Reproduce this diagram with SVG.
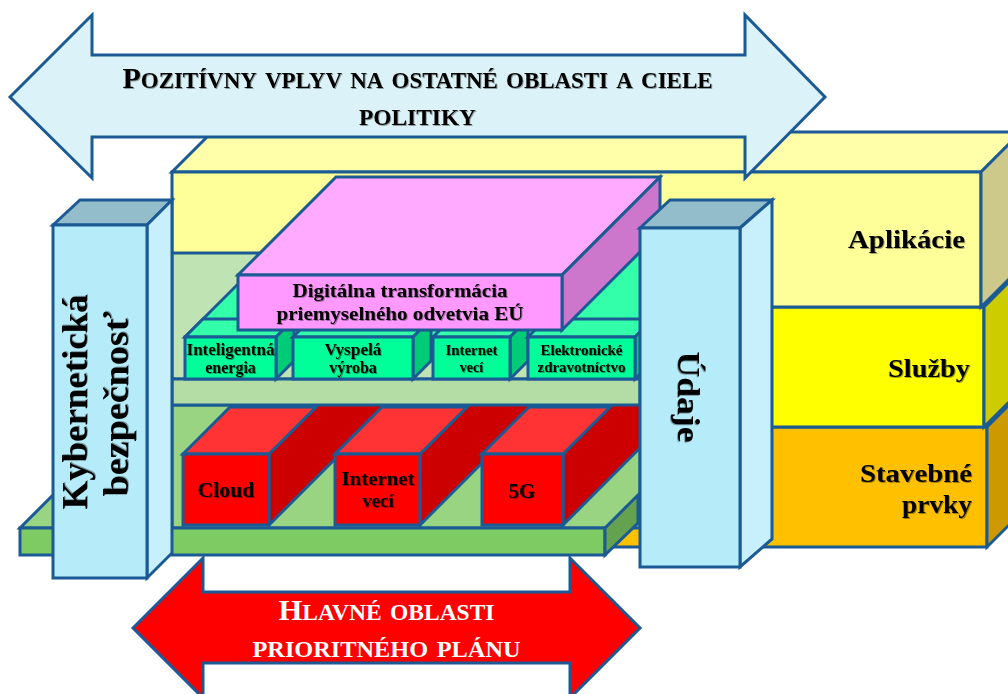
<svg xmlns="http://www.w3.org/2000/svg" width="1008" height="694" viewBox="0 0 1008 694">
<defs>
<style>
.s{stroke:#1B5A94;stroke-width:3;stroke-linejoin:miter}
.tx{font-family:"Liberation Serif","Times New Roman",serif;font-weight:bold;fill:#000}
.sc{font-variant:small-caps}
.sh{filter:url(#sh)}
.w{fill:#fff}
</style>
<filter id="sh" x="-10%" y="-30%" width="120%" height="160%"><feDropShadow dx="1" dy="1" stdDeviation="0.7" flood-color="#000" flood-opacity="0.35"/></filter>
<clipPath id="lowclip"><rect x="172" y="405" width="468" height="123"/></clipPath>
</defs>
<rect width="1008" height="694" fill="#fff"/>

<g id="stavebne-prvky">
<rect class="s" x="600" y="427" width="387" height="120" fill="#FFC000"/>
<polygon class="s" points="987,427 1027,387 1027,507 987,547" fill="#CC9A00"/>
<text class="tx sh" x="972" y="482" font-size="26" text-anchor="end" textLength="112" lengthAdjust="spacingAndGlyphs">Stavebné</text>
<text class="tx sh" x="972" y="513" font-size="26" text-anchor="end" textLength="70" lengthAdjust="spacingAndGlyphs">prvky</text>
</g>
<g id="sluzby">
<rect class="s" x="600" y="307" width="384" height="120" fill="#FFFF00"/>
<polygon class="s" points="984,307 1024,267 1024,387 984,427" fill="#CCCC00"/>
<text class="tx sh" x="970" y="377" font-size="26" text-anchor="end" textLength="82" lengthAdjust="spacingAndGlyphs">Služby</text>
</g>
<g id="aplikacie">
<polygon class="s" points="172,172 981,172 1021,132 212,132" fill="#FFFFAA"/>
<rect class="s" x="172" y="172" width="809" height="135" fill="#FFFF99"/>
<polygon class="s" points="981,172 1021,132 1021,267 981,307" fill="#CCC98B"/>
<text class="tx sh" x="965" y="248" font-size="26" text-anchor="end" textLength="117" lengthAdjust="spacingAndGlyphs">Aplikácie</text>
</g>

<g id="arrow-top">
<polygon class="s" points="10,97 92,15 92,55 745,55 745,15 825,97 745,178 745,137 92,137 92,178" fill="#DBF3F8"/>
<text class="tx sc sh" x="417.5" y="88" text-anchor="middle" textLength="590" lengthAdjust="spacingAndGlyphs"><tspan font-size="30">P</tspan><tspan font-size="33">ozitívny vplyv na ostatné oblasti a ciele</tspan></text>
<text class="tx sc sh" x="417.5" y="125" font-size="33" text-anchor="middle" textLength="117" lengthAdjust="spacingAndGlyphs">politiky</text>
</g>

<g id="arrow-bottom">
<polygon class="s" points="133,628 203,558 203,592 570,592 570,558 640,628 570,698 570,663 203,663 203,698" fill="#FF0000"/>
<text class="tx sc w" x="386.5" y="620" text-anchor="middle" textLength="216" lengthAdjust="spacingAndGlyphs"><tspan font-size="30">H</tspan><tspan font-size="33">lavné oblasti</tspan></text>
<text class="tx sc w" x="386.5" y="657" font-size="33" text-anchor="middle" textLength="268" lengthAdjust="spacingAndGlyphs">prioritného plánu</text>
</g>

<g id="platform-top">
<polygon class="s" points="20,528 605,528 638,495 53,495" fill="#99D483"/>
</g>

<g id="lower-panel">
<rect class="s" x="172" y="405" width="468" height="123" fill="#99D483"/>
</g>

<g clip-path="url(#lowclip)">
<g id="cloud">
<polygon class="s" points="269,454 399,324 399,395 269,525" fill="#CC0000"/>
<polygon class="s" points="183,454 269,454 316,407 230,407" fill="#FF3333"/>
<rect class="s" x="183" y="454" width="86" height="71" fill="#FF0000"/>
<text class="tx sh" x="226" y="497" font-size="20" text-anchor="middle" textLength="57" lengthAdjust="spacingAndGlyphs">Cloud</text>
</g>
<g id="internet-veci-red">
<polygon class="s" points="420,454 550,324 550,395 420,525" fill="#CC0000"/>
<polygon class="s" points="335,454 420,454 467,407 382,407" fill="#FF3333"/>
<rect class="s" x="335" y="454" width="85" height="71" fill="#FF0000"/>
<text class="tx sh" x="378" y="485" font-size="19" text-anchor="middle" textLength="73" lengthAdjust="spacingAndGlyphs">Internet</text>
<text class="tx sh" x="378" y="507" font-size="19" text-anchor="middle">vecí</text>
</g>
<g id="g5">
<polygon class="s" points="563,454 693,324 693,395 563,525" fill="#CC0000"/>
<polygon class="s" points="482,454 563,454 610,407 529,407" fill="#FF3333"/>
<rect class="s" x="482" y="454" width="81" height="71" fill="#FF0000"/>
<text class="tx sh" x="522" y="498" font-size="21" text-anchor="middle">5G</text>
</g>
</g>

<g id="upper-panel">
<rect class="s" x="172" y="253" width="468" height="126" fill="#C0E3B4"/>
<rect class="s" x="172" y="379" width="468" height="26" fill="#B3DDA4"/>
</g>

<g id="green-slab">
<polygon points="185,337 645,337 645,240 282,240" fill="#33FFAA"/>
<line class="s" x1="185" y1="337" x2="282" y2="240"/>
</g>

<g id="inteligentna-energia">
<polygon class="s" points="185,337 276,337 294,319 203,319" fill="#33FFAA"/>
<polygon class="s" points="276,337 294,319 294,361 276,379" fill="#00CC77"/>
<rect class="s" x="185" y="337" width="91" height="42" fill="#00FF99"/>
<text class="tx sh" x="230.5" y="355" font-size="16" text-anchor="middle" textLength="88" lengthAdjust="spacingAndGlyphs">Inteligentná</text>
<text class="tx sh" x="230.5" y="373" font-size="16" text-anchor="middle">energia</text>
</g>
<g id="vyspela-vyroba">
<polygon class="s" points="293,337 413,337 431,319 311,319" fill="#33FFAA"/>
<polygon class="s" points="413,337 431,319 431,361 413,379" fill="#00CC77"/>
<rect class="s" x="293" y="337" width="120" height="42" fill="#00FF99"/>
<text class="tx sh" x="353" y="355" font-size="16" text-anchor="middle" textLength="57" lengthAdjust="spacingAndGlyphs">Vyspelá</text>
<text class="tx sh" x="353" y="373" font-size="16" text-anchor="middle">výroba</text>
</g>
<g id="internet-veci-green">
<polygon class="s" points="433,337 510,337 528,319 451,319" fill="#33FFAA"/>
<polygon class="s" points="510,337 528,319 528,361 510,379" fill="#00CC77"/>
<rect class="s" x="433" y="337" width="77" height="42" fill="#00FF99"/>
<text class="tx sh" x="471.5" y="355" font-size="14" text-anchor="middle" textLength="52" lengthAdjust="spacingAndGlyphs">Internet</text>
<text class="tx sh" x="471.5" y="372" font-size="14" text-anchor="middle">vecí</text>
</g>
<g id="elektronicke-zdravotnictvo">
<polygon class="s" points="528,337 635,337 653,319 546,319" fill="#33FFAA"/>
<polygon class="s" points="635,337 653,319 653,361 635,379" fill="#00CC77"/>
<rect class="s" x="528" y="337" width="107" height="42" fill="#00FF99"/>
<text class="tx sh" x="581.5" y="355" font-size="14" text-anchor="middle" textLength="82" lengthAdjust="spacingAndGlyphs">Elektronické</text>
<text class="tx sh" x="581.5" y="372" font-size="14" text-anchor="middle" textLength="88" lengthAdjust="spacingAndGlyphs">zdravotníctvo</text>
</g>

<g id="digitalna-transformacia">
<polygon class="s" points="238,275 562,275 660,177 336,177" fill="#FFAAFF"/>
<polygon class="s" points="562,275 660,177 660,232 562,330" fill="#CC77CC"/>
<rect class="s" x="238" y="275" width="324" height="55" fill="#FF99FF"/>
<text class="tx sh" x="400" y="297" font-size="19" text-anchor="middle" textLength="215" lengthAdjust="spacingAndGlyphs">Digitálna transformácia</text>
<text class="tx sh" x="400" y="320" font-size="19" text-anchor="middle" textLength="247" lengthAdjust="spacingAndGlyphs">priemyselného odvetvia EÚ</text>
</g>

<g id="platform">
<rect class="s" x="20" y="528" width="585" height="27" fill="#7ECA63"/>
<polygon class="s" points="605,528 638,495 638,523 605,555" fill="#64A24F"/>
</g>

<g id="kyberneticka-bezpecnost">
<polygon class="s" points="53,225 80,200 172,200 147,225" fill="#93BDCA"/>
<polygon class="s" points="147,225 172,200 172,553 147,578" fill="#C8F0FC"/>
<rect class="s" x="53" y="225" width="94" height="353" fill="#B6ECFA"/>
<text class="tx sh" transform="translate(87,402) rotate(-90)" font-size="36" text-anchor="middle" textLength="215" lengthAdjust="spacingAndGlyphs">Kybernetická</text>
<text class="tx sh" transform="translate(128,404) rotate(-90)" font-size="36" text-anchor="middle" textLength="185" lengthAdjust="spacingAndGlyphs">bezpečnosť</text>
</g>

<g id="udaje">
<polygon class="s" points="640,228 670,200 772,200 740,228" fill="#93BDCA"/>
<polygon class="s" points="740,228 772,200 772,539 740,567" fill="#C8F0FC"/>
<rect class="s" x="640" y="228" width="100" height="339" fill="#B6ECFA"/>
<text class="tx sh" transform="translate(678,397) rotate(90)" font-size="32" text-anchor="middle" textLength="91" lengthAdjust="spacingAndGlyphs">Údaje</text>
</g>

<g id="connectors"></g>
</svg>
